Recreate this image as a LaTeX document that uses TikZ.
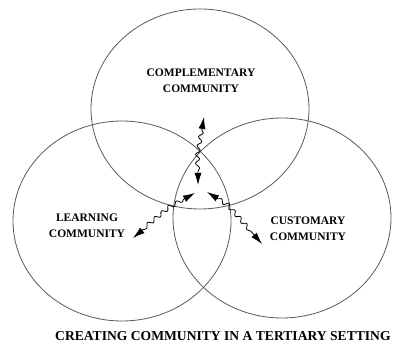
\documentclass[tikz,border=0pt]{standalone}
\usepackage{fontspec}
\setmainfont{Liberation Serif}
\usepackage{tikz}
\usetikzlibrary{arrows.meta}
\usetikzlibrary{decorations.pathmorphing}

\begin{document}
\begin{tikzpicture}[x=1pt,y=-1pt]
		\tikzset{ring/.style = {draw=black!65, line width=0.8pt}}
		\tikzset{label/.style = {align=center, inner sep=0pt, font=\fontsize{11.5}{16}\selectfont\bfseries}}
		\tikzset{wave/.style = {{Latex[length=12pt,width=7pt]}-{Latex[length=12pt,width=7pt]}, line width=0.8pt, decorate,
				decoration={snake, amplitude=2pt, segment length=9pt, pre length=13pt, post length=13pt}}}
		\useasboundingbox (0,0) rectangle (393,352);
		% circles
		\coordinate (ctop) at (200,109);
		\coordinate (cleft) at (122,221);
		\coordinate (cright) at (282,218);
		\draw[ring] (ctop) ellipse [x radius=109pt, y radius=100pt];
		\draw[ring] (cleft) ellipse [x radius=109pt, y radius=100pt];
		\draw[ring] (cright) ellipse [x radius=109pt, y radius=100pt];
		% labels
		\node[label] (compl) at (201,81) {COMPLEMENTARY\\COMMUNITY};
		\node[label] (learn) at (87,226) {LEARNING\\COMMUNITY};
		\node[label] (custom) at (308,229) {CUSTOMARY\\COMMUNITY};
		\node[label, anchor=west, font=\fontsize{13.6}{16}\selectfont\bfseries] (title) at (55,336) {CREATING COMMUNITY IN A TERTIARY SETTING};
		% arrow ends
		\coordinate (up1) at (204,117);
		\coordinate (up0) at (198,152);
		\coordinate (up2) at (198,185);
		\coordinate (lt1) at (195,193);
		\coordinate (lt0) at (173,205);
		\coordinate (lt2) at (133,238);
		\coordinate (rt1) at (207,192);
		\coordinate (rt0) at (228,205);
		\coordinate (rt2) at (262,244);
		% arrows
		\draw[wave] (up1) -- (up0) -- (up2);
		\draw[wave] (lt1) -- (lt0) -- (lt2);
		\draw[wave] (rt1) -- (rt0) -- (rt2);
\end{tikzpicture}
\end{document}
